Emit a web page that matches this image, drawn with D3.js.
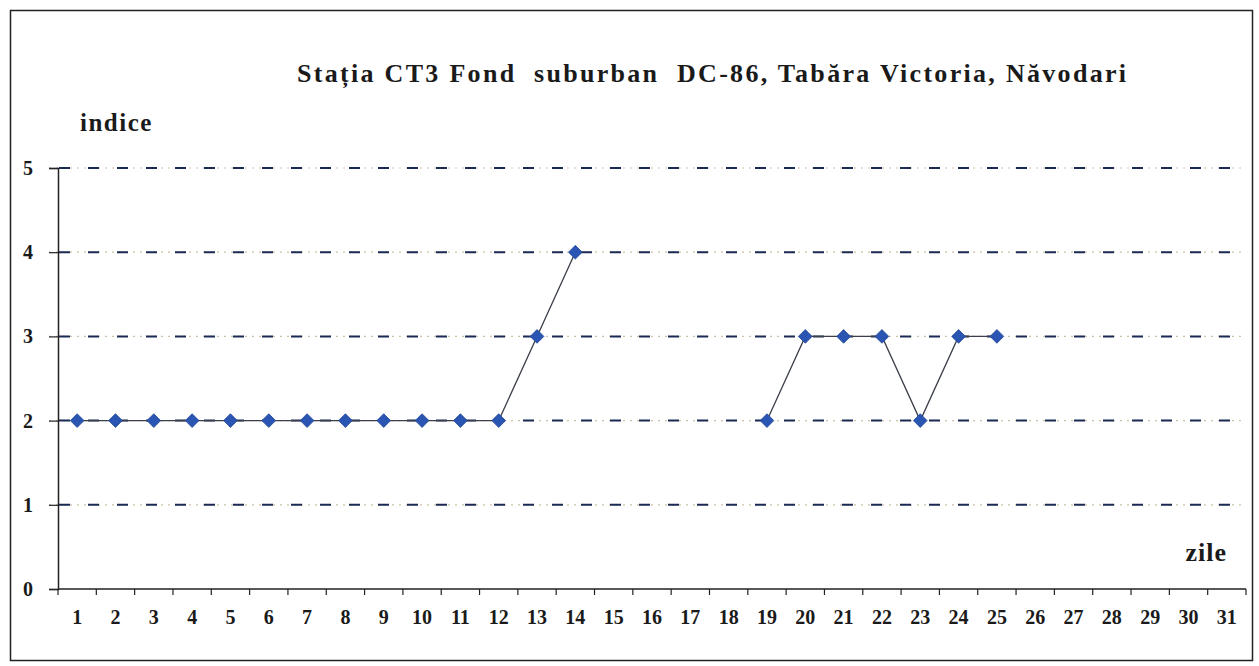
<!DOCTYPE html>
<html>
<head>
<meta charset="utf-8">
<script src="https://cdn.jsdelivr.net/npm/d3@7"></script>
<style>
  body { margin: 0; background: #fff; }
  text { font-family: "Liberation Serif", "Times New Roman", serif; font-weight: bold; fill: #1a1a1a; }
</style>
</head>
<body>
<svg id="chart" width="1259" height="666"></svg>
<script>
// days of the month
var days = d3.range(1, 32);
// index values per day (null = no measurement)
var indexValues = [2,2,2,2,2,2,2,2,2,2,2,2,3,4,null,null,null,null,2,3,3,3,2,3,3,null,null,null,null,null,null];
var yTicks = [0, 1, 2, 3, 4, 5];
var titleText = "Stația CT3 Fond  suburban  DC-86, Tabăra Victoria, Năvodari";

var svg = d3.select("#chart");

// outer frame
svg.append("rect")
  .attr("x", 10.5).attr("y", 10.5)
  .attr("width", 1242).attr("height", 650)
  .attr("fill", "none").attr("stroke", "#222").attr("stroke-width", 1.5);

var plotL = 58, plotR = 1246, plotT = 168, plotB = 589;

var x = d3.scaleBand().domain(days).range([plotL, plotR]);
var y = d3.scaleLinear().domain([0, 5]).range([plotB, plotT]);

// gridlines: navy dashes + light dots
var grid = svg.append("g");
yTicks.filter(function(d){ return d > 0; }).forEach(function(t) {
  grid.append("line")
    .attr("x1", plotL - 9).attr("x2", plotR)
    .attr("y1", y(t)).attr("y2", y(t))
    .attr("stroke", "#c9c3a8").attr("stroke-width", 1.2)
    .attr("stroke-dasharray", "2,5");
  grid.append("line")
    .attr("x1", plotL - 9).attr("x2", plotR)
    .attr("y1", y(t)).attr("y2", y(t))
    .attr("stroke", "#1b2a55").attr("stroke-width", 2)
    .attr("stroke-dasharray", "11,18")
    .attr("stroke-dashoffset", -10);
});

// y axis
var yAxis = d3.axisLeft(y).tickValues(yTicks).tickSize(9).tickPadding(16).tickFormat(d3.format("d"));
var gy = svg.append("g").attr("transform", "translate(" + plotL + ",0)").call(yAxis);
gy.select(".domain").attr("stroke", "#222").attr("stroke-width", 1.5);
gy.selectAll(".tick line").attr("stroke", "#222").attr("stroke-width", 1.2);
gy.selectAll("text").attr("font-family", null).attr("font-size", null)
  .style("font-size", "20px").attr("fill", "#1a1a1a");

// x axis, ticks between categories
var gx = svg.append("g").attr("transform", "translate(0," + plotB + ")");
gx.append("line").attr("x1", plotL).attr("x2", plotR).attr("y1", 0).attr("y2", 0)
  .attr("stroke", "#222").attr("stroke-width", 1.5);
gx.selectAll("line.tk").data(days.concat([32])).enter().append("line")
  .attr("class", "tk")
  .attr("x1", function(d){ return plotL + (d - 1) * x.step(); })
  .attr("x2", function(d){ return plotL + (d - 1) * x.step(); })
  .attr("y1", 0).attr("y2", 6)
  .attr("stroke", "#222").attr("stroke-width", 1.2);
gx.selectAll("text").data(days).enter().append("text")
  .attr("x", function(d){ return x(d) + x.bandwidth() / 2; })
  .attr("y", 35)
  .attr("text-anchor", "middle")
  .style("font-size", "20px")
  .text(function(d){ return d; });

// data line
var pts = days.map(function(d, i){ return {day: d, v: indexValues[i]}; });
var line = d3.line()
  .defined(function(d){ return d.v !== null; })
  .x(function(d){ return x(d.day) + x.bandwidth() / 2; })
  .y(function(d){ return y(d.v); });
svg.append("path").datum(pts)
  .attr("d", line)
  .attr("fill", "none").attr("stroke", "#3a3f4a").attr("stroke-width", 1.3);

// diamond markers
var diamond = d3.symbol().type(d3.symbolDiamond2).size(120);
svg.selectAll("path.mk").data(pts.filter(function(d){ return d.v !== null; })).enter().append("path")
  .attr("class", "mk")
  .attr("d", diamond)
  .attr("transform", function(d){ return "translate(" + (x(d.day) + x.bandwidth() / 2) + "," + y(d.v) + ")"; })
  .attr("fill", "#2b55b3").attr("stroke", "#1f4596").attr("stroke-width", 0.8);

// texts
svg.append("text").attr("x", 297).attr("y", 82)
  .style("font-size", "26px").style("letter-spacing", "2.3px").style("white-space", "pre")
  .text(titleText);
svg.append("text").attr("x", 80).attr("y", 131)
  .style("font-size", "25px").style("letter-spacing", "1.5px").text("indice");
svg.append("text").attr("x", 1227).attr("y", 561).attr("text-anchor", "end")
  .style("font-size", "26px").style("letter-spacing", "1px").text("zile");
</script>
</body>
</html>
